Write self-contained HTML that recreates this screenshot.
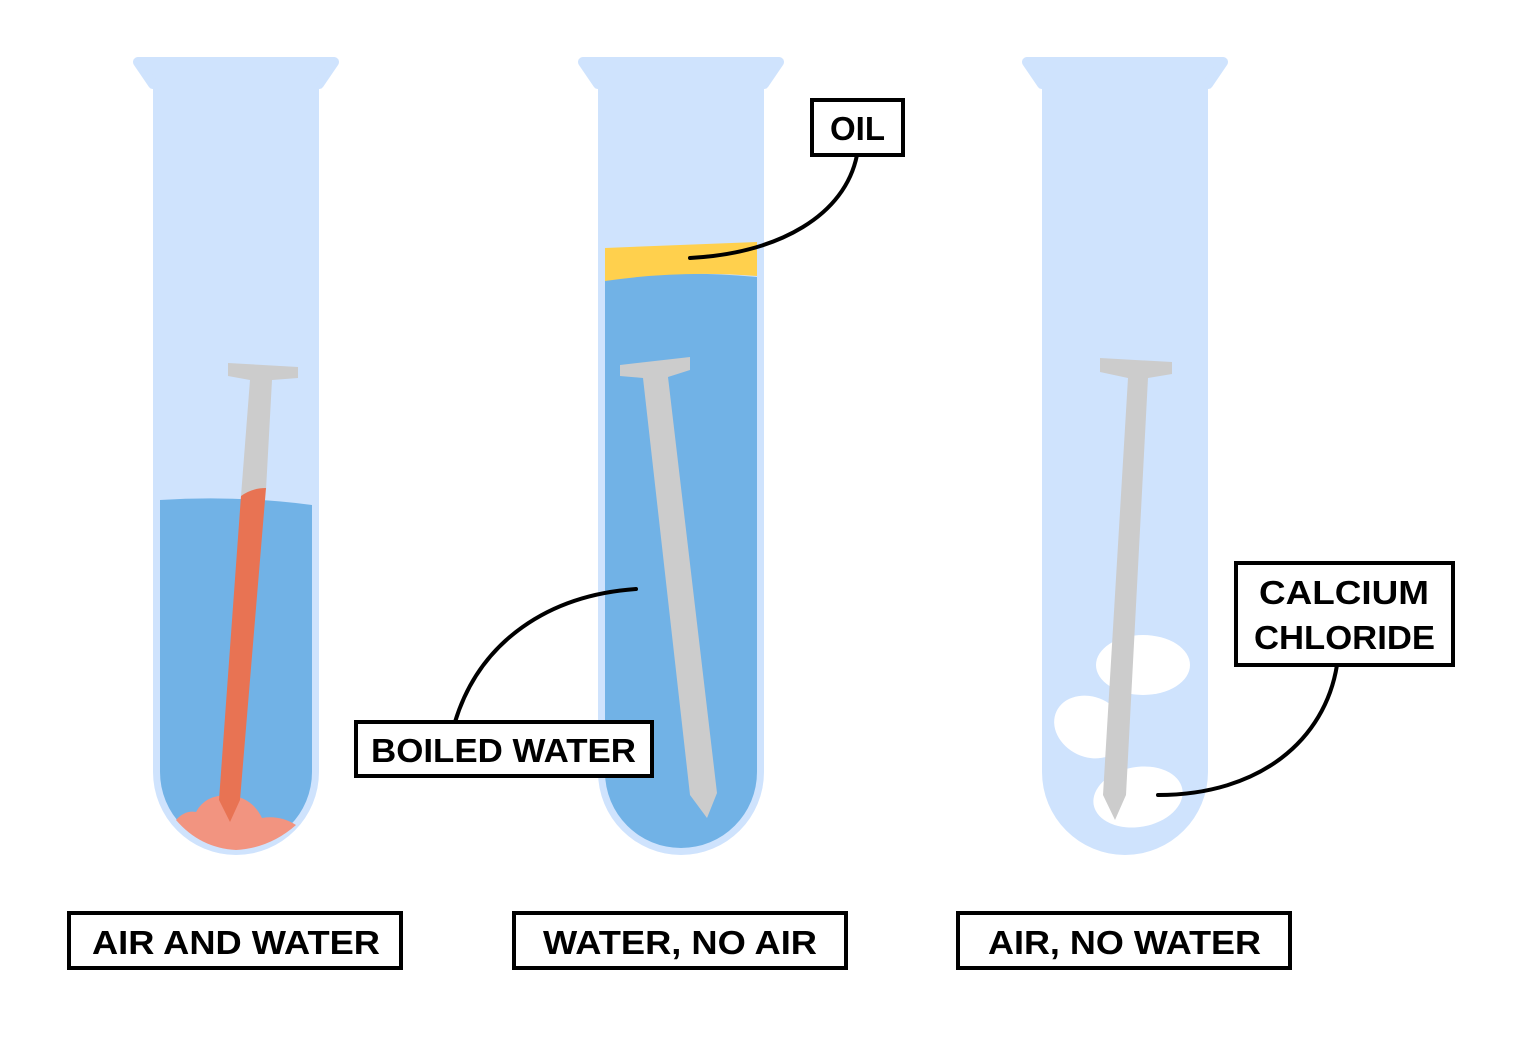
<!DOCTYPE html>
<html><head><meta charset="utf-8"><style>
html,body{margin:0;padding:0;background:#fff;}
svg{display:block;}
text{font-family:"Liberation Sans",sans-serif;font-weight:bold;font-size:33px;fill:#000;}
</style></head><body>
<svg width="1523" height="1039" viewBox="0 0 1523 1039" xmlns="http://www.w3.org/2000/svg">
<defs>
<g id="tube">
<path d="M138,62 L334,62 L319,84 L319,772 A83,83 0 0 1 153,772 L153,84 Z" fill="#CFE3FD"/>
<path d="M138,62 L153,84 M334,62 L319,84 M138,62 L334,62" stroke="#CFE3FD" stroke-width="10" stroke-linecap="round" fill="none"/>
<rect x="153" y="80" width="166" height="20" fill="#CFE3FD"/>
</g>
</defs>
<!-- Tube 1 -->
<use href="#tube"/>
<path d="M160,500 Q236,495 312,505 L312,772 A76,76 0 0 1 160,772 Z" fill="#71B2E6"/>
<path d="M176,820 Q185,810 196,812 Q205,795 228,795 Q252,797 262,818 Q280,815 296,825 Q270,848 236,850 Q200,848 176,820 Z" fill="#F29480"/>
<path d="M228,363 L298,367 L298,378 L272,380 L266,490 L241,496 L250,380 L228,376 Z" fill="#CCCCCC"/>
<path d="M241,496 Q252,488 266,488 L240,800 L230,822 L219,800 Z" fill="#E87353"/>
<!-- Tube 2 -->
<use href="#tube" x="445"/>
<path d="M605,277 Q680,270 757,277 L757,772 A76,76 0 0 1 605,772 Z" fill="#71B2E6"/>
<path d="M605,248 Q680,245 757,242 L757,276 Q680,270 605,281 Z" fill="#FFD04D"/>
<path d="M620,365 L690,357 L690,370 L668,377 L717,793 L707,818 L690,795 L643,378 L620,376 Z" fill="#CCCCCC"/>
<!-- Tube 3 -->
<use href="#tube" x="889"/>
<ellipse cx="1143" cy="665" rx="47" ry="30" fill="#fff"/>
<ellipse cx="1090" cy="727" rx="37" ry="30" transform="rotate(25 1090 727)" fill="#fff"/>
<ellipse cx="1138" cy="797" rx="45" ry="30" transform="rotate(-10 1138 797)" fill="#fff"/>
<path d="M1100,358 L1172,362 L1172,374 L1148,378 L1126,795 L1115,820 L1103,795 L1128,378 L1100,372 Z" fill="#CCCCCC"/>
<!-- connectors -->
<g fill="none" stroke="#000" stroke-width="4" stroke-linecap="round">
<path d="M857,155 C845,215 780,253 690,258"/>
<path d="M455,722 C480,640 550,595 636,589"/>
<path d="M1337,665 C1325,740 1260,795 1158,795"/>
</g>
<!-- boxes -->
<g fill="#fff" stroke="#000" stroke-width="4">
<rect x="812" y="100" width="91" height="55"/>
<rect x="356" y="722" width="296" height="54"/>
<rect x="1236" y="563" width="217" height="102"/>
<rect x="69" y="913" width="332" height="55"/>
<rect x="514" y="913" width="332" height="55"/>
<rect x="958" y="913" width="332" height="55"/>
</g>
<g>
<text x="830" y="140" textLength="55" lengthAdjust="spacingAndGlyphs">OIL</text>
<text x="371" y="762" textLength="265" lengthAdjust="spacingAndGlyphs">BOILED WATER</text>
<text x="1259" y="604" textLength="170" lengthAdjust="spacingAndGlyphs">CALCIUM</text>
<text x="1254" y="649" textLength="181" lengthAdjust="spacingAndGlyphs">CHLORIDE</text>
<text x="92" y="954" textLength="288" lengthAdjust="spacingAndGlyphs">AIR AND WATER</text>
<text x="543" y="954" textLength="274" lengthAdjust="spacingAndGlyphs">WATER, NO AIR</text>
<text x="988" y="954" textLength="273" lengthAdjust="spacingAndGlyphs">AIR, NO WATER</text>
</g>
</svg>
</body></html>
